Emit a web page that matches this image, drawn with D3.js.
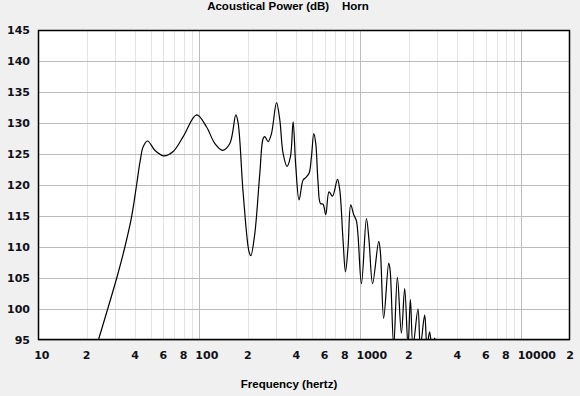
<!DOCTYPE html>
<meta charset="utf-8">
<style>
    body {
        margin: 0;
        background: #f0f0f0;
    }
    .lbl {
        font-family: "DejaVu Sans", Verdana, sans-serif;
        font-size: 11px;
        font-weight: bold;
        fill: #101018;
    }
    .ttl {
        font-family: "Liberation Sans", Arial, sans-serif;
        font-size: 11.5px;
        font-weight: bold;
        fill: #000;
        white-space: pre;
    }
</style>
<body>
<svg></svg>
</body>
<script src="https://cdnjs.cloudflare.com/ajax/libs/d3/7.8.5/d3.min.js"></script>
<script>
    // response (Hz, dB)
    var freqs = [22, 23.7, 30.8, 34.6, 38.1, 40.9, 43, 45, 47.9, 53.1, 60.4, 69, 79.6, 96.4, 111, 125, 139.6,
        155, 168.9, 174.5, 187.5, 204, 209.2, 221.5, 237.9, 249.4, 255.5, 267.8, 281, 302, 316.5, 331.7,
        351, 368.7, 382.8, 397.7, 416.9, 441.4, 458.7, 480.9, 497.6, 514.3, 529, 547, 565.7, 587.4, 610.3,
        639.6, 671.6, 721.6, 745.5, 781.2, 808.6, 839.4, 871.9, 910, 946, 1016, 1091, 1132, 1192, 1300,
        1332, 1396, 1500, 1530, 1611, 1698, 1798, 1885, 1976, 2045, 2122, 2279, 2358, 2508, 2592, 2692,
        2800, 2891, 3000];
    var dbs = [92.2, 95, 105, 110, 114.9, 120, 123.8, 126.2, 127.1, 125.6, 124.7, 125.4, 127.8, 131.3, 129.4, 126.7, 125.6,
        126.7, 131.3, 130, 118.7, 109.2, 108.6, 112.2, 121.9, 127.5, 127.8, 127.0, 128.3, 133.3, 130.5, 125.1,
        123.0, 124.6, 130.2, 123, 117.6, 120.8, 121.2, 121.9, 124.6, 128.3, 126.7, 120.3, 117.0, 116.9, 115.2,
        118.9, 118.2, 120.9, 119.2, 111.1, 106.0, 110.0, 116.8, 115.2, 114.2, 104.1, 114.6, 111.1, 104.1, 110.9,
        109.2, 98.5, 107.4, 106.3, 94, 105.1, 96.1, 103.3, 94, 101.5, 94, 100, 94, 99.0, 94, 96.3,
        93, 95.3, 92];

    var yTicks = [95, 100, 105, 110, 115, 120, 125, 130, 135, 140, 145];
    var xTicks = [10, 20, 40, 60, 80, 100, 200, 400, 600, 800, 1000, 2000, 4000, 6000, 8000, 10000, 20000];
    var xTickLabels = ["10", "2", "4", "6", "8", "100", "2", "4", "6", "8", "1000", "2", "4", "6", "8", "10000", "2"];
    var decades = [100, 1000, 10000];

    var width = 580, height = 396;
    var margin = {top: 30, right: 10, bottom: 56, left: 38};

    var svg = d3.select("svg")
        .attr("width", width)
        .attr("height", height);

    var x = d3.scaleLog()
        .domain([10, 20000])
        .range([margin.left, width - margin.right]);

    var y = d3.scaleLinear()
        .domain([95, 145])
        .range([height - margin.bottom, margin.top]);

    svg.append("defs").append("clipPath")
        .attr("id", "plot")
        .append("rect")
        .attr("x", margin.left)
        .attr("y", margin.top)
        .attr("width", x.range()[1] - margin.left)
        .attr("height", y.range()[0] - margin.top);

    svg.append("rect")
        .attr("x", margin.left)
        .attr("y", margin.top)
        .attr("width", x.range()[1] - margin.left)
        .attr("height", y.range()[0] - margin.top)
        .style("fill", "#fff");

    // minor grid, 2..9 in every decade
    var minor = [];
    [10, 100, 1000, 10000].forEach(function (d) {
        for (var k = 2; k < 10; k++) {
            if (d * k < 20000) minor.push(d * k);
        }
    });

    svg.append("g").selectAll("line")
        .data(minor)
        .enter().append("line")
        .attr("x1", function (d) { return Math.round(x(d)) + 0.5; })
        .attr("x2", function (d) { return Math.round(x(d)) + 0.5; })
        .attr("y1", margin.top)
        .attr("y2", y.range()[0])
        .style("stroke", "#e3e3e3");

    svg.append("g").selectAll("line")
        .data(decades)
        .enter().append("line")
        .attr("x1", function (d) { return Math.round(x(d)) + 0.5; })
        .attr("x2", function (d) { return Math.round(x(d)) + 0.5; })
        .attr("y1", margin.top)
        .attr("y2", y.range()[0])
        .style("stroke", "#bcbcbc");

    svg.append("g").selectAll("line")
        .data(yTicks)
        .enter().append("line")
        .attr("x1", margin.left)
        .attr("x2", x.range()[1])
        .attr("y1", function (d) { return Math.round(y(d)) + 0.5; })
        .attr("y2", function (d) { return Math.round(y(d)) + 0.5; })
        .style("stroke", "#bcbcbc");

    var pts = freqs.map(function (f, i) { return [f, dbs[i]]; });

    var line = d3.line()
        .x(function (d) { return x(d[0]); })
        .y(function (d) { return y(d[1]); })
        .curve(d3.curveCatmullRom.alpha(0.5));

    svg.append("path")
        .datum(pts)
        .attr("clip-path", "url(#plot)")
        .attr("d", line)
        .style("fill", "none")
        .style("stroke", "#000")
        .style("stroke-width", 1.2);

    // frame
    svg.append("rect")
        .attr("x", margin.left + 0.5)
        .attr("y", margin.top + 0.5)
        .attr("width", x.range()[1] - margin.left - 1)
        .attr("height", y.range()[0] - margin.top - 1)
        .style("fill", "none")
        .style("stroke", "#000")
        .style("stroke-width", 1.5);

    svg.append("g").selectAll("text")
        .data(yTicks)
        .enter().append("text")
        .attr("class", "lbl")
        .attr("x", 30)
        .attr("y", function (d) { return y(d) + 4; })
        .attr("text-anchor", "end")
        .text(function (d) { return d; });

    // first digit sits on the tick
    svg.append("g").selectAll("text")
        .data(xTicks)
        .enter().append("text")
        .attr("class", "lbl")
        .attr("x", function (d) { return x(d) - 3.8; })
        .attr("y", 359)
        .text(function (d, i) { return xTickLabels[i]; });

    svg.append("text")
        .attr("class", "ttl")
        .attr("x", 288)
        .attr("y", 10)
        .attr("text-anchor", "middle")
        .text("Acoustical Power (dB)    Horn");

    svg.append("text")
        .attr("class", "ttl")
        .attr("x", 289)
        .attr("y", 388)
        .attr("text-anchor", "middle")
        .text("Frequency (hertz)");
</script>
